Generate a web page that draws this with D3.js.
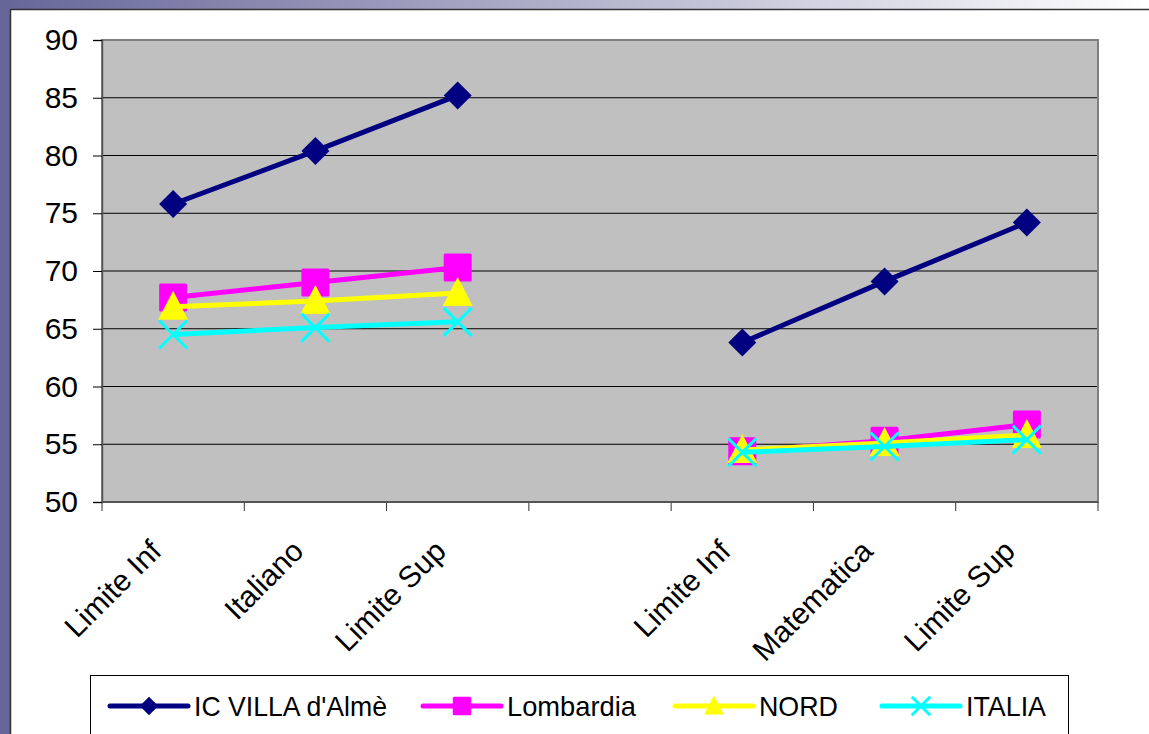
<!DOCTYPE html>
<html><head><meta charset="utf-8">
<script src="https://cdn.jsdelivr.net/npm/d3@7"></script>
<style>html,body{margin:0;padding:0;background:#fff;overflow:hidden}</style>
</head><body>
<svg id="c" width="1149" height="734"></svg>
<script>
const categories = ["Limite Inf","Italiano","Limite Sup","","Limite Inf","Matematica","Limite Sup"];
const catKeys = ["c0","c1","c2","gap","c4","c5","c6"];
const seriesNames = ["IC VILLA d'Almè","Lombardia","NORD","ITALIA"];
const villaValues = [75.8, 80.4, 85.2, null, 63.8, 69.1, 74.2];
const lombardiaValues = [67.7, 69.0, 70.3, null, 54.4, 55.3, 56.7];
const nordValues = [66.9, 67.4, 68.1, null, 54.5, 55.1, 55.8];
const italiaValues = [64.5, 65.1, 65.6, null, 54.3, 54.8, 55.4];
const yTicks = [50,55,60,65,70,75,80,85,90];
const colors = ["#000080","#ff00ff","#ffff00","#00ffff"];
const symbols = ["diamond","square","triangle","x"];
const allValues = [villaValues, lombardiaValues, nordValues, italiaValues];
const FONT = "Liberation Sans, Arial, sans-serif";

const svg = d3.select("#c");
const grad = svg.append("defs").append("linearGradient").attr("id","tg");
grad.append("stop").attr("offset","0%").attr("stop-color","#666699");
grad.append("stop").attr("offset","100%").attr("stop-color","#ffffff");
svg.append("rect").attr("x",0).attr("y",0).attr("width",1149).attr("height",9).attr("fill","url(#tg)");
svg.append("rect").attr("x",0).attr("y",0).attr("width",10).attr("height",734).attr("fill","#666699");
svg.append("line").attr("x1",10).attr("x2",1149).attr("y1",9.5).attr("y2",9.5).attr("stroke","#333").attr("stroke-width",1.5);
svg.append("line").attr("x1",10.5).attr("x2",10.5).attr("y1",9).attr("y2",734).attr("stroke","#333").attr("stroke-width",1.5);

const L=102, R=1098, T=40, B=502;
const x = d3.scaleBand().domain(catKeys).range([L,R]);
const y = d3.scaleLinear().domain([50,90]).range([B,T]);

svg.append("rect").attr("x",L).attr("y",T).attr("width",R-L).attr("height",B-T).attr("fill","#c0c0c0");
svg.append("g").selectAll("line").data(yTicks.filter(t=>t>50&&t<90)).join("line")
  .attr("x1",L).attr("x2",R).attr("y1",d=>y(d)).attr("y2",d=>y(d)).attr("stroke","#000").attr("stroke-width",1);
svg.append("rect").attr("x",L).attr("y",T).attr("width",R-L).attr("height",B-T).attr("fill","none").attr("stroke","#808080").attr("stroke-width",2);

// y axis
const yAxis = svg.append("g").attr("transform",`translate(${L},0)`)
  .call(d3.axisLeft(y).tickValues(yTicks).tickSize(9).tickPadding(15));
yAxis.select(".domain").attr("stroke","#555").attr("stroke-width",1.5);
yAxis.selectAll(".tick line").attr("stroke","#000");
yAxis.selectAll("text").attr("font-family",FONT).attr("font-size",30).attr("fill","#000");

// x axis: ticks at category boundaries
const bounds = catKeys.map(k=>x(k)).concat([R]);
svg.append("g").selectAll("line").data(bounds).join("line")
  .attr("x1",d=>d).attr("x2",d=>d).attr("y1",B).attr("y2",B+9).attr("stroke","#333").attr("stroke-width",1);
svg.append("line").attr("x1",L).attr("x2",R).attr("y1",B).attr("y2",B).attr("stroke","#555").attr("stroke-width",2);
svg.append("g").selectAll("text").data(catKeys.map((k,i)=>({k,t:categories[i]}))).join("text")
  .attr("transform",d=>`translate(${x(d.k)+x.bandwidth()/2-10},${B+51}) rotate(-45)`)
  .attr("text-anchor","end")
  .attr("font-family",FONT).attr("font-size",30).attr("fill","#000")
  .text(d=>d.t);

function drawMarker(g, type, cx, cy, color, s){
  if(type==="diamond"){
    const r=14*s;
    g.append("path").attr("d",`M${cx},${cy-r}L${cx+r},${cy}L${cx},${cy+r}L${cx-r},${cy}Z`).attr("fill",color);
  } else if(type==="square"){
    const r=14*s;
    g.append("rect").attr("x",cx-r).attr("y",cy-r).attr("width",2*r).attr("height",2*r).attr("rx",1.5).attr("fill",color);
  } else if(type==="triangle"){
    g.append("path").attr("d",`M${cx},${cy-16*s}L${cx+15*s},${cy+13*s}L${cx-15*s},${cy+13*s}Z`).attr("fill",color);
  } else {
    const r=14*s;
    g.append("path").attr("d",`M${cx-r},${cy-r}L${cx+r},${cy+r}M${cx+r},${cy-r}L${cx-r},${cy+r}`)
      .attr("stroke",color).attr("stroke-width",3).attr("fill","none");
  }
}

const line = d3.line().defined(d=>d.v!==null).x(d=>x(d.k)+x.bandwidth()/2).y(d=>y(d.v));
allValues.forEach((vals,si)=>{
  const g = svg.append("g");
  const data = vals.map((v,i)=>({k:catKeys[i],v}));
  g.append("path").datum(data).attr("d",line).attr("fill","none").attr("stroke",colors[si]).attr("stroke-width",5).attr("stroke-linejoin","round");
  data.filter(d=>d.v!==null).forEach(d=>drawMarker(g,symbols[si],x(d.k)+x.bandwidth()/2,y(d.v),colors[si],1));
});

// legend
const lg = svg.append("g");
lg.append("rect").attr("x",90.5).attr("y",675.5).attr("width",978).attr("height",80).attr("fill","#fff").attr("stroke","#000").attr("stroke-width",1);
const legendX = [110, 423, 675, 882];
const legendW = [193, 129, 79, 80];
seriesNames.forEach((n,i)=>{
  const ly = 706;
  lg.append("line").attr("x1",legendX[i]).attr("x2",legendX[i]+78).attr("y1",ly).attr("y2",ly)
    .attr("stroke",colors[i]).attr("stroke-width",5).attr("stroke-linecap","round");
  drawMarker(lg, symbols[i], legendX[i]+39, ly, colors[i], 0.66);
  lg.append("text").attr("x",legendX[i]+84).attr("y",ly+10)
    .attr("font-family",FONT).attr("font-size",28)
    .attr("textLength",legendW[i]).attr("lengthAdjust","spacingAndGlyphs")
    .attr("fill","#000").text(n);
});
</script>
</body></html>
